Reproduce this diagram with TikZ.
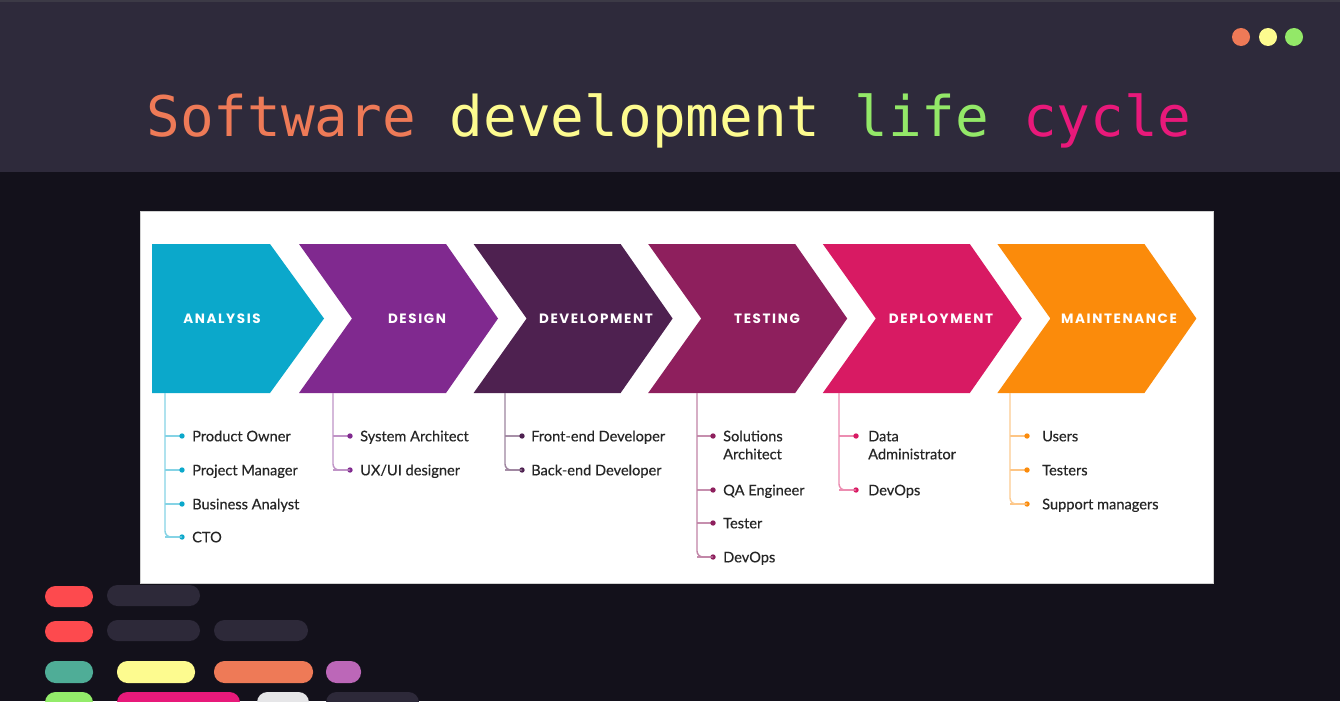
\documentclass[tikz,border=0pt]{standalone}
\usepackage{fontspec}
\setmainfont{Lato}
\newfontfamily\rolefont{Lato}[FakeBold=0.35]
\newfontfamily\monofont{DejaVu Sans Mono}
\newfontfamily\labelfont{Poppins}[LetterSpace=12]
\definecolor{topbar}{HTML}{2E2A3B}
\definecolor{bgdark}{HTML}{13111B}
\definecolor{topline}{HTML}{3C3A46}
\definecolor{tOr}{HTML}{EE7A57}
\definecolor{tYe}{HTML}{FDFB8F}
\definecolor{tGr}{HTML}{93E868}
\definecolor{tPk}{HTML}{E8197A}
\definecolor{cA}{HTML}{0BA8CB}
\definecolor{cB}{HTML}{80298F}
\definecolor{cC}{HTML}{4E2150}
\definecolor{cD}{HTML}{8E1F5D}
\definecolor{cE}{HTML}{D81A63}
\definecolor{cF}{HTML}{FB8B0B}
\definecolor{barRed}{HTML}{FD4A4E}
\definecolor{barGray}{HTML}{2D2939}
\definecolor{barTeal}{HTML}{4FAD97}
\definecolor{barPurple}{HTML}{BC67B8}
\definecolor{barGreen}{HTML}{93EC6A}
\definecolor{barLight}{HTML}{E6E6E8}
\definecolor{roletext}{HTML}{262626}
\tikzset{
  stagelabel/.style={text=white, font=\labelfont\bfseries\fontsize{13.5}{13.5}\selectfont, inner sep=0pt},
  role/.style={text=roletext, font=\rolefont\fontsize{14.6}{18}\selectfont, inner sep=0pt, anchor=base west, align=left},
  treeline/.style={line width=1.4pt},
  pill/.style={rounded corners=10.5pt},
}
% #1 node name, #2 colour, #3 line x, #4 dot x, #5 text x, #6 dot y, #7 text, #8 extra baseline offset
\newcommand{\roleitem}[8]{%
  \node[role] (#1) at (#5,{#6+5.3+#8}) {#7};
  \draw[treeline, #2!50] (#3,#6) -- (#4,#6);
  \fill[#2] (#4,#6) circle (2.7);
}
\begin{document}
\begin{tikzpicture}[x=1pt,y=-1pt]
\useasboundingbox (0,0) rectangle (1340,701);
\fill[bgdark] (0,0) rectangle (1340,701);
\fill[topbar] (0,0) rectangle (1340,172);
\fill[topline] (0,0) rectangle (1340,2);
% window dots
\fill[tOr] (1241,37) circle (9);
\fill[tYe] (1268,37) circle (9);
\fill[tGr] (1294,37) circle (9);
% title
\node[anchor=base, inner sep=0pt, font=\monofont\fontsize{56}{60}\selectfont] (title) at (669,136)
  {\textcolor{tOr}{Software} \textcolor{tYe}{development} \textcolor{tGr}{life} \textcolor{tPk}{cycle}};
% panel
\fill[white, draw=gray!35, line width=1pt] (140,211) rectangle (1213,583);
% chevrons
\fill[cA] (152,244) -- (270,244) -- (324,318.5) -- (270,393) -- (152,393) -- cycle;
\foreach \L/\c in {299/cB, 473.6/cC, 648.2/cD, 822.8/cE, 997.4/cF}{
  \fill[\c] (\L,244) -- ({\L+147},244) -- ({\L+199},318.5) -- ({\L+147},393) -- (\L,393) -- ({\L+53},318.5) -- cycle;
}
\node[stagelabel] (sA) at (222,319) {ANALYSIS};
\node[stagelabel] (sB) at (417,319) {DESIGN};
\node[stagelabel] (sC) at (596,319) {DEVELOPMENT};
\node[stagelabel] (sD) at (767,319) {TESTING};
\node[stagelabel] (sE) at (941,319) {DEPLOYMENT};
\node[stagelabel] (sF) at (1119,319) {MAINTENANCE};
% tree tops
\coordinate (tA) at (165,393);
\coordinate (tB) at (333,393);
\coordinate (tC) at (505,393);
\coordinate (tD) at (697,393);
\coordinate (tE) at (839,393);
\coordinate (tF) at (1010,393);
% Analysis
\roleitem{a1}{cA}{165}{182}{192}{436}{Product Owner}{0}
\roleitem{a2}{cA}{165}{182}{192}{470}{Project Manager}{0}
\roleitem{a3}{cA}{165}{182}{192}{504}{Business Analyst}{0}
\roleitem{a4}{cA}{165}{182}{192}{537}{CTO}{0}
\draw[treeline, cA!50, rounded corners=6pt] (tA) |- (182,537);
% Design
\roleitem{b1}{cB}{333}{350}{360}{436}{System Architect}{0}
\roleitem{b2}{cB}{333}{350}{360}{470}{UX/UI designer}{0}
\draw[treeline, cB!50, rounded corners=6pt] (tB) |- (350,470);
% Development
\roleitem{c1}{cC}{505}{522}{531}{436}{Front-end Developer}{0}
\roleitem{c2}{cC}{505}{522}{531}{470}{Back-end Developer}{0}
\draw[treeline, cC!55, rounded corners=6pt] (tC) |- (522,470);
% Testing
\roleitem{d1}{cD}{697}{713}{723}{436}{Solutions\\Architect}{18}
\roleitem{d2}{cD}{697}{713}{723}{490}{QA Engineer}{0}
\roleitem{d3}{cD}{697}{713}{723}{523}{Tester}{0}
\roleitem{d4}{cD}{697}{713}{723}{557}{DevOps}{0}
\draw[treeline, cD!55, rounded corners=6pt] (tD) |- (713,557);
% Deployment
\roleitem{e1}{cE}{839}{856}{868}{436}{Data\\Administrator}{18}
\roleitem{e2}{cE}{839}{856}{868}{490}{DevOps}{0}
\draw[treeline, cE!50, rounded corners=6pt] (tE) |- (856,490);
% Maintenance
\roleitem{f1}{cF}{1010}{1027}{1042}{436}{Users}{0}
\roleitem{f2}{cF}{1010}{1027}{1042}{470}{Testers}{0}
\roleitem{f3}{cF}{1010}{1027}{1042}{504}{Support managers}{0}
\draw[treeline, cF!45, rounded corners=6pt] (tF) |- (1027,504);
% decorative code bars
\fill[barRed, pill] (45,586) rectangle (93,607);
\fill[barGray, pill] (107,585) rectangle (200,606);
\fill[barRed, pill] (45,621) rectangle (93,642);
\fill[barGray, pill] (107,620) rectangle (200,641);
\fill[barGray, pill] (214,620) rectangle (308,641);
\fill[barTeal, pill] (45,661) rectangle (93,683);
\fill[tYe, pill] (117,661) rectangle (195,683);
\fill[tOr, pill] (214,661) rectangle (313,683);
\fill[barPurple, pill] (326,661) rectangle (361,683);
\fill[barGreen, pill] (45,692) rectangle (93,714);
\fill[tPk, pill] (117,692) rectangle (240,714);
\fill[barLight, pill] (257,692) rectangle (309,714);
\fill[barGray, pill] (326,692) rectangle (419,714);
\end{tikzpicture}
\end{document}
